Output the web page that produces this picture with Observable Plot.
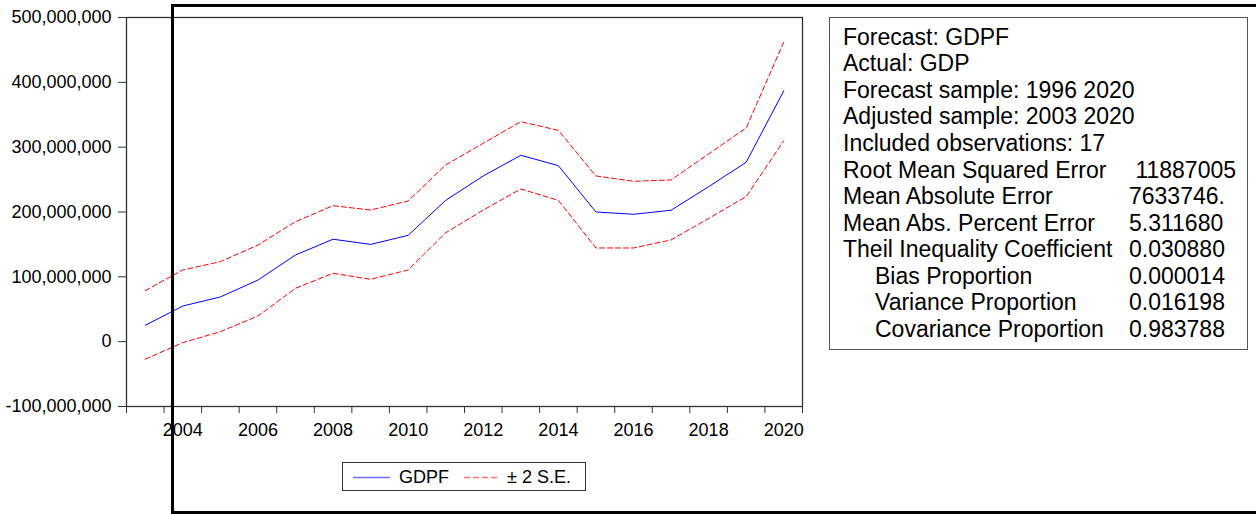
<!DOCTYPE html>
<html>
<head>
<meta charset="utf-8">
<script src="https://cdn.jsdelivr.net/npm/d3@7"></script>
<script src="https://cdn.jsdelivr.net/npm/@observablehq/plot@0.6"></script>
<style>
  html, body { margin: 0; padding: 0; background: #fff; overflow: hidden; }
  #wrap { position: relative; width: 1256px; height: 514px; overflow: hidden; font-family: "Liberation Sans", Arial, Helvetica, sans-serif; color: #000; }
  #chart { position: absolute; left: 0; top: 0; }
  #stats { position: absolute; left: 829px; top: 17px; width: 417px; height: 331px; border: 1px solid #555; box-sizing: content-box; }
  #stats .row { position: absolute; left: 0; height: 26.57px; line-height: 26.57px; font-size: 23px; white-space: pre; width: 100%; }
  #stats .lab { position: absolute; }
  #stats .val { position: absolute; left: 299px; }
  #legend { position: absolute; left: 342px; top: 462px; width: 242px; height: 27px; border: 1px solid #333; font-size: 18px; }
  #legend .item { position: absolute; top: 0; line-height: 28px; white-space: pre; }
  #legend svg { position: absolute; top: 0; }
  #frameBox { position: absolute; left: 171px; top: 4px; width: 1200px; height: 504px; border-top: 3px solid #000; border-left: 3px solid #000; border-bottom: 3px solid #000; pointer-events: none; }
</style>
</head>
<body>
<div id="wrap">
  <div id="chart"></div>
  <div id="stats"></div>
  <div id="legend"></div>
  <div id="frameBox"></div>
</div>
<script>
// ---- data ----
const years = [2003, 2004, 2005, 2006, 2007, 2008, 2009, 2010, 2011, 2012, 2013, 2014, 2015, 2016, 2017, 2018, 2019, 2020];
const gdpf  = [25300000, 55000000, 69000000, 95000000, 133700000, 158000000, 150000000, 164000000, 218000000, 255600000, 287500000, 271500000, 200000000, 196500000, 202700000, 239000000, 276700000, 386700000];
const upper = [78700000, 110600000, 123400000, 149000000, 185000000, 209800000, 203000000, 217000000, 272600000, 306000000, 339300000, 326000000, 255600000, 247400000, 249400000, 289500000, 329600000, 461800000];
const lower = [-27000000, -1500000, 15400000, 39600000, 82300000, 105500000, 96200000, 110600000, 168000000, 203000000, 235500000, 218000000, 144500000, 144500000, 156900000, 190000000, 223700000, 309600000];
const yTicks = [-100000000, 0, 100000000, 200000000, 300000000, 400000000, 500000000];
const xLabels = [2004, 2006, 2008, 2010, 2012, 2014, 2016, 2018, 2020];
const legendLabels = ["GDPF", "± 2 S.E."];
const statLabels = ["Forecast: GDPF", "Actual: GDP", "Forecast sample: 1996 2020", "Adjusted sample: 2003 2020", "Included observations: 17", "Root Mean Squared Error", "Mean Absolute Error", "Mean Abs. Percent Error", "Theil Inequality Coefficient", "Bias Proportion", "Variance Proportion", "Covariance Proportion"];
const statValues = ["", "", "", "", "", " 11887005", "7633746.", "5.311680", "0.030880", "0.000014", "0.016198", "0.983788"];
const statIndent = [false, false, false, false, false, false, false, false, false, true, true, true];

// ---- build ----
const rows = years.map((y, i) => ({year: y, gdpf: gdpf[i], upper: upper[i], lower: lower[i]}));
const boundaries = years.map(y => y - 0.5).concat([years[years.length - 1] + 0.5]);
const loc = d3.formatLocale({decimal: ".", thousands: ",", grouping: [3], currency: ["", ""], minus: "-"});
const fmt = loc.format(",");

const chart = Plot.plot({
  width: 820,
  height: 450,
  marginLeft: 126,
  marginRight: 18,
  marginTop: 17,
  marginBottom: 44,
  style: {fontFamily: '"Liberation Sans", Arial, Helvetica, sans-serif', fontSize: "18px", color: "#000", background: "transparent"},
  x: {type: "linear", domain: [boundaries[0], boundaries[boundaries.length - 1]], label: null},
  y: {domain: [yTicks[0], yTicks[yTicks.length - 1]], label: null},
  marks: [
    Plot.axisY(yTicks, {tickSize: 8, tickPadding: 7, tickFormat: fmt, stroke: "#333", fill: "#000", fontSize: 18, label: null}),
    Plot.axisX(boundaries, {tickSize: 7, tickFormat: () => "", stroke: "#333", label: null}),
    Plot.axisX(xLabels, {tickSize: 0, tickPadding: 17, tickFormat: d => String(d), fill: "#000", fontSize: 18, label: null}),
    Plot.line(rows, {x: "year", y: "upper", stroke: "#ff0000", strokeWidth: 1, strokeDasharray: "5,3"}),
    Plot.line(rows, {x: "year", y: "lower", stroke: "#ff0000", strokeWidth: 1, strokeDasharray: "5,3"}),
    Plot.line(rows, {x: "year", y: "gdpf", stroke: "#0000ff", strokeWidth: 1}),
    Plot.frame({stroke: "#333", strokeWidth: 1.3})
  ]
});
document.getElementById("chart").appendChild(chart);

// stats box
const stats = document.getElementById("stats");
statLabels.forEach((t, i) => {
  const row = document.createElement("div");
  row.className = "row";
  row.style.top = (5.7 + i * 26.57) + "px";
  const lab = document.createElement("span");
  lab.className = "lab";
  lab.style.left = (statIndent[i] ? 45 : 13) + "px";
  lab.textContent = t;
  row.appendChild(lab);
  if (statValues[i]) {
    const val = document.createElement("span");
    val.className = "val";
    val.textContent = statValues[i];
    row.appendChild(val);
  }
  stats.appendChild(row);
});

// legend
const legend = document.getElementById("legend");
legend.innerHTML =
  '<svg width="242" height="28">' +
  '<line x1="10" x2="47" y1="14.5" y2="14.5" stroke="#6f6fff" stroke-width="1.5"/>' +
  '<line x1="121" x2="155" y1="14.5" y2="14.5" stroke="#ff7070" stroke-width="1.5" stroke-dasharray="6,3"/>' +
  '</svg>' +
  '<span class="item" style="left:56px">' + legendLabels[0] + '</span>' +
  '<span class="item" style="left:164px">' + legendLabels[1] + '</span>';
</script>
</body>
</html>
